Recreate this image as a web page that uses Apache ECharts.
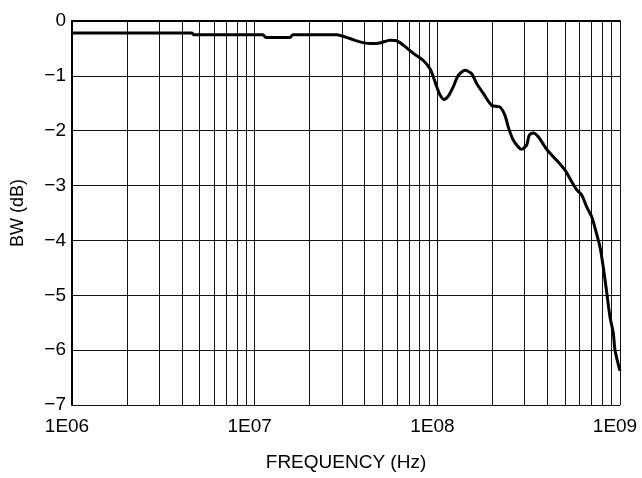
<!DOCTYPE html>
<html>
<head>
<meta charset="utf-8">
<script src="https://cdn.jsdelivr.net/npm/echarts@6/dist/echarts.min.js"></script>
<style>
  html, body { margin: 0; padding: 0; background: #ffffff; }
  #chart { width: 642px; height: 478px; }
</style>
</head>
<body>
<div id="chart"></div>
<script>
// Bandwidth response: frequency (Hz) and gain (dB)
const freqHz = [
  1.0e6, 4.52e6, 4.65e6, 1.11e7, 1.15e7, 1.56e7, 1.62e7, 2.81e7, 3.32e7, 3.77e7,
  4.28e7, 4.85e7, 5.51e7, 5.99e7, 6.51e7, 7.39e7, 8.38e7, 9.12e7, 9.51e7, 9.93e7,
  1.035e8, 1.087e8, 1.148e8, 1.222e8, 1.302e8, 1.417e8, 1.542e8, 1.641e8, 1.785e8, 1.985e8,
  2.204e8, 2.346e8, 2.445e8, 2.604e8, 2.896e8, 3.084e8, 3.187e8, 3.35e8, 3.57e8, 3.97e8,
  4.50e8, 5.00e8, 5.44e8, 5.80e8, 6.17e8, 6.57e8, 7.00e8, 7.39e8, 7.77e8, 8.11e8,
  8.46e8, 8.81e8, 9.19e8, 9.39e8, 1.0e9
];
const bwDb = [
  -0.22, -0.22, -0.25, -0.25, -0.30, -0.30, -0.25, -0.25, -0.32, -0.38,
  -0.41, -0.40, -0.35, -0.36, -0.44, -0.59, -0.72, -0.87, -1.02, -1.20,
  -1.35, -1.43, -1.37, -1.20, -0.99, -0.90, -0.96, -1.14, -1.32, -1.54,
  -1.57, -1.72, -1.93, -2.17, -2.34, -2.26, -2.08, -2.04, -2.11, -2.34,
  -2.54, -2.72, -2.93, -3.08, -3.17, -3.39, -3.57, -3.84, -4.12, -4.50,
  -4.95, -5.39, -5.69, -6.00, -6.38
];

// Axis labels
const xTickLabels = { 6: '1E06', 7: '1E07', 8: '1E08', 9: '1E09' };
const xName = 'FREQUENCY (Hz)';
const yName = 'BW (dB)';

// Minor vertical grid lines at 2..9 within each decade
const minorGrid = [];
for (let d = 6; d < 9; d++) {
  for (let k = 2; k <= 9; k++) minorGrid.push({ xAxis: k * Math.pow(10, d) });
}

const FONT = '"Liberation Sans", Arial, sans-serif';

const chart = echarts.init(document.getElementById('chart'), null, { renderer: 'canvas' });
chart.setOption({
  animation: false,
  backgroundColor: '#ffffff',
  grid: { left: 72, right: 22, top: 21, bottom: 73, containLabel: false, outerBoundsMode: 'none' },
  xAxis: {
    type: 'log',
    logBase: 10,
    min: 1e6,
    max: 1e9,
    name: xName,
    nameLocation: 'middle',
    nameGap: 48,
    nameTextStyle: { color: '#000', fontFamily: FONT, fontSize: 19 },
    axisLine: { show: true, lineStyle: { color: '#000', width: 2 } },
    axisTick: { show: false },
    axisLabel: {
      color: '#000', fontFamily: FONT, fontSize: 19, margin: 12,
      padding: [0, 10, 0, 0],
      formatter: v => xTickLabels[Math.round(Math.log10(v))] || ''
    },
    splitLine: { show: true, lineStyle: { color: '#111', width: 1 } }
  },
  yAxis: {
    type: 'value',
    min: -7,
    max: 0,
    interval: 1,
    name: yName,
    nameLocation: 'middle',
    nameGap: 45,
    nameTextStyle: { color: '#000', fontFamily: FONT, fontSize: 18 },
    axisLine: { show: true, lineStyle: { color: '#000', width: 2 } },
    axisTick: { show: false },
    axisLabel: {
      color: '#000', fontFamily: FONT, fontSize: 19, margin: 6,
      padding: [0, 0, 8, 0],
      formatter: v => String(v).replace('-', '\u2212')
    },
    splitLine: { show: true, lineStyle: { color: '#111', width: 1 } }
  },
  series: [{
    type: 'line',
    data: freqHz.map((f, i) => [f, bwDb[i]]),
    showSymbol: false,
    smooth: 0.25,
    lineStyle: { color: '#000', width: 3 },
    z: 5,
    markLine: {
      silent: true,
      symbol: 'none',
      label: { show: false },
      animation: false,
      lineStyle: { color: '#111', width: 1, type: 'solid' },
      data: minorGrid
    }
  }]
});
</script>
</body>
</html>
